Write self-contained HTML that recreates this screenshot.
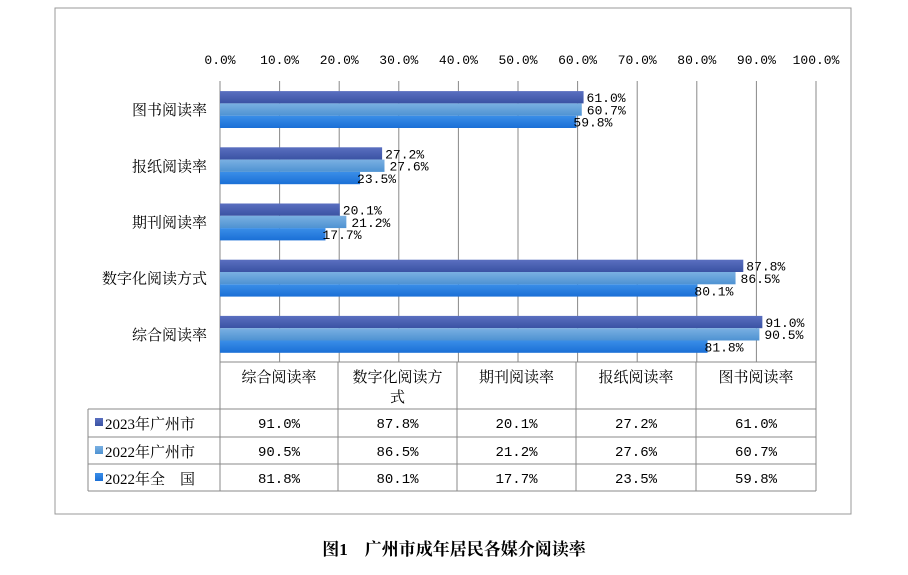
<!DOCTYPE html>
<html><head><meta charset="utf-8"><style>
body{margin:0;background:#fff;width:908px;height:570px;overflow:hidden;font-family:"Liberation Serif","Noto Serif CJK SC","Noto Sans CJK SC",serif}
svg text{font-family:"Liberation Mono","Noto Sans CJK SC",monospace}
.cj{font-family:"Liberation Serif","Noto Serif CJK SC",serif}
</style></head><body>
<svg id="c" width="908" height="570">
<defs>
<linearGradient id="g0" x1="0" y1="0" x2="0" y2="1"><stop offset="0" stop-color="#5a6fc0"/><stop offset="1" stop-color="#3a52a3"/></linearGradient>
<linearGradient id="g1" x1="0" y1="0" x2="0" y2="1"><stop offset="0" stop-color="#7ab0e2"/><stop offset="1" stop-color="#4e92d2"/></linearGradient>
<linearGradient id="g2" x1="0" y1="0" x2="0" y2="1"><stop offset="0" stop-color="#3a8ee8"/><stop offset="1" stop-color="#1a6fd6"/></linearGradient>
</defs>
<rect x="55" y="8" width="796" height="506" fill="none" stroke="#999"/>
<g id="grid"></g><g id="bars"></g><g id="tbl"></g>
<text x="454" y="555" text-anchor="middle" class="cj" font-size="17" font-weight="bold" fill="#000">图1　广州市成年居民各媒介阅读率</text>
</svg>
<script>
const categories=["图书阅读率","报纸阅读率","期刊阅读率","数字化阅读方式","综合阅读率"];
const s2023gz=[61.0,27.2,20.1,87.8,91.0];
const s2022gz=[60.7,27.6,21.2,86.5,90.5];
const s2022cn=[59.8,23.5,17.7,80.1,81.8];
const seriesNames=["2023年广州市","2022年广州市","2022年全　国"];
const ticks=[0,10,20,30,40,50,60,70,80,90,100];
const NS="http://www.w3.org/2000/svg";
const x0=220,x1=816,yTop=81,yBot=362;
const xs=v=>x0+(x1-x0)*v/100;
const band=(yBot-yTop)/categories.length;
function mk(t,a,p,txt){const e=document.createElementNS(NS,t);for(const k in a)e.setAttribute(k,a[k]);if(txt!=null)e.textContent=txt;p.appendChild(e);return e;}
const G=document.getElementById('grid'),B=document.getElementById('bars'),T=document.getElementById('tbl');
ticks.forEach(t=>{
 const l=mk('line',{x1:xs(t),x2:xs(t),y1:yTop,y2:yBot,stroke:'#888','stroke-width':1},G);
 
 
 const tx=mk('text',{x:xs(t),y:64,'text-anchor':'middle','font-size':13,fill:'#000'},G,t.toFixed(1)+'%');
 
 
});
const series=[s2023gz,s2022gz,s2022cn];
categories.forEach((c,i)=>{
 const yc=yTop+band*i+band/2;
 const lb=mk('text',{x:207,y:yc+6,'text-anchor':'end','font-size':15,fill:'#000',class:'cj'},B,c);
 
 
 series.forEach((s,j)=>{
  const y=yc-18+j*12.3;
  const r=mk('rect',{x:x0,y:y,width:xs(s[i])-x0,height:12.3,fill:'url(#g'+j+')'},B);
  
  
  const v=mk('text',{x:xs(s[i])+(j==2?-3:3)+(j==1?2:0),y:y+11,'font-size':13,fill:'#000'},B,s[i].toFixed(1)+'%');
  
  
 });
});
// table
const cols=[220,338,457,576,696,816];const order=[4,3,2,1,0];
const rowY=[362,409,437,464,491];
mk('line',{x1:220,x2:816,y1:362,y2:362,stroke:'#888'},T);
for(let k=0;k<cols.length;k++)mk('line',{x1:cols[k],x2:cols[k],y1:362,y2:491,stroke:'#888'},T);
mk('line',{x1:88,x2:88,y1:409,y2:491,stroke:'#888'},T);
rowY.slice(1).forEach(y=>mk('line',{x1:88,x2:816,y1:y,y2:y,stroke:'#888'},T));
order.forEach((ci,k)=>{
 const cx=(cols[k]+cols[k+1])/2,name=categories[ci];
 if(name.length>6){
  const a=mk('text',{x:cx,y:382,'text-anchor':'middle','font-size':15,class:'cj'},T,name.slice(0,6));
  
  
  mk('text',{x:cx,y:402,'text-anchor':'middle','font-size':15,class:'cj'},T,name.slice(6));
 }else{
  const a=mk('text',{x:cx,y:382,'text-anchor':'middle','font-size':15,class:'cj'},T,name);
  
  
 }
 series.forEach((s,j)=>{
  const t=mk('text',{x:cx,y:rowY[j+1]+19,'text-anchor':'middle','font-size':14},T,s[ci].toFixed(1)+'%');
  
  
 });
});
seriesNames.forEach((n,j)=>{
 const sw=mk('rect',{x:95,y:rowY[j+1]+9,width:8,height:8,fill:'url(#g'+j+')'},T);
 
 
 const t=mk('text',{x:105,y:rowY[j+1]+20,'font-size':15,class:'cj'},T,n);
 
 
});
</script>
</body></html>
